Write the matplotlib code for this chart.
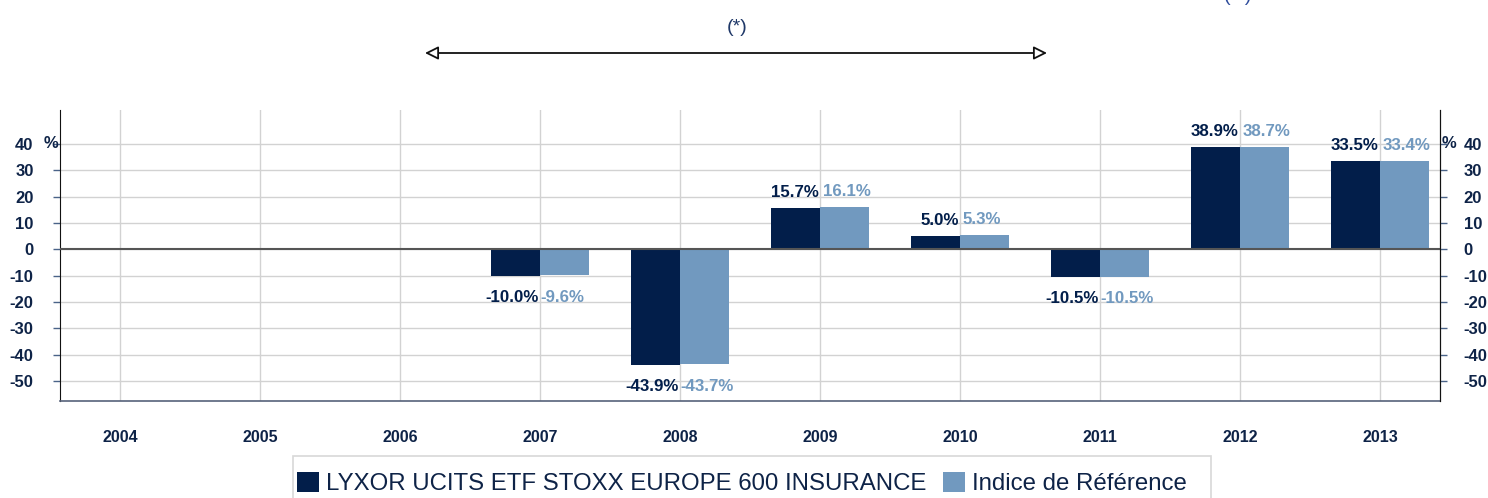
import matplotlib
matplotlib.use("Agg")
import matplotlib.pyplot as plt
import numpy as np
from matplotlib.transforms import blended_transform_factory
from matplotlib.patches import Rectangle

years = ["2004", "2005", "2006", "2007", "2008", "2009", "2010", "2011", "2012", "2013"]
fund = [None, None, None, -10.0, -43.9, 15.7, 5.0, -10.5, 38.9, 33.5]
index = [None, None, None, -9.6, -43.7, 16.1, 5.3, -10.5, 38.7, 33.4]
fund_name = "LYXOR UCITS ETF STOXX EUROPE 600 INSURANCE"
index_name = "Indice de Référence"
yticks = [40, 30, 20, 10, 0, -10, -20, -30, -40, -50]

DARK = "#021E4A"
LIGHT = "#7199BF"
TXT = "#0E2347"

plt.rcParams['font.family'] = ['Liberation Sans', 'DejaVu Sans']

fig = plt.figure(figsize=(14.88, 4.98), dpi=100)
ax = fig.add_axes([60/1488, 1-401/498, 1380/1488, 291/498])

x = np.arange(len(years))
w = 0.35
fv = [np.nan if v is None else v for v in fund]
iv = [np.nan if v is None else v for v in index]
ax.bar(x - w/2, fv, width=w, color=DARK, label=fund_name, zorder=3)
ax.bar(x + w/2, iv, width=w, color=LIGHT, label=index_name, zorder=3)

LS = 12.2
for xi, a, b in zip(x, fund, index):
    if a is None:
        continue
    if a >= 0:
        ax.annotate(f"{a:.1f}%", (xi, a), xytext=(-1, 6), textcoords="offset points",
                    ha="right", va="bottom", fontsize=LS, fontweight="bold", color=DARK)
    else:
        ax.annotate(f"{a:.1f}%", (xi, a), xytext=(-1, -10), textcoords="offset points",
                    ha="right", va="top", fontsize=LS, fontweight="bold", color=DARK)
    if b >= 0:
        ax.annotate(f"{b:.1f}%", (xi, max(a, b)), xytext=(2, 6), textcoords="offset points",
                    ha="left", va="bottom", fontsize=LS, fontweight="bold", color=LIGHT)
    else:
        ax.annotate(f"{b:.1f}%", (xi, a), xytext=(0, -10), textcoords="offset points",
                    ha="left", va="top", fontsize=LS, fontweight="bold", color=LIGHT)

ax.set_xlim(-60/140, 9 + 60/140)
ax.set_ylim(-57.6, 52.9)
ax.set_yticks(yticks)
ax.set_yticklabels([str(t) for t in yticks])
ax.set_xticks(x)
ax.set_xticklabels(years)
ax.tick_params(axis="x", length=0, pad=21, labelsize=11.5, labelcolor=TXT)
for lab in ax.get_xticklabels():
    lab.set_fontweight("bold")
ax.tick_params(axis="y", length=5, width=1, color="#4A6388", pad=14,
               labelsize=12, labelcolor=TXT)
for lab in ax.get_yticklabels():
    lab.set_fontweight("bold")

ax.grid(True, color="#D2D2D2", lw=1, zorder=0)
ax.set_axisbelow(True)
ax.axhline(0, color="#555555", lw=1.5, zorder=4)

ax.spines["top"].set_visible(False)
ax.spines["left"].set_color("#111111")
ax.spines["right"].set_color("#111111")
ax.spines["bottom"].set_color("#56627A")
ax.spines["bottom"].set_linewidth(1.2)

ax2 = ax.twinx()
ax2.set_ylim(ax.get_ylim())
ax2.set_yticks(yticks)
ax2.set_yticklabels([str(t) for t in yticks])
ax2.tick_params(axis="y", length=5, width=1, color="#4A6388", pad=12,
                labelsize=12, labelcolor=TXT)
for lab in ax2.get_yticklabels():
    lab.set_fontweight("bold")
for s in ["top", "left", "bottom"]:
    ax2.spines[s].set_visible(False)
ax2.spines["right"].set_color("#111111")

tl = blended_transform_factory(ax.transAxes, ax.transData)
ax.text(-0.0015, 40, "%", transform=tl, ha="right", va="center",
        fontsize=12, fontweight="bold", color=TXT)
ax.text(1.001, 40, "%", transform=tl, ha="left", va="center",
        fontsize=12, fontweight="bold", color=TXT)

# period annotation
fig.text(737/1488, 1-27/498, "(*)", ha="center", va="center", fontsize=14, color="#1F3868")
fig.text(1238/1488, 1+3/498, "(**)", ha="center", va="center", fontsize=14, color="#2E4C9C")
ax.annotate("", xy=(1047/1488, 1-53/498), xytext=(425/1488, 1-53/498),
            xycoords="figure fraction", textcoords="figure fraction",
            arrowprops=dict(arrowstyle="<|-|>,head_length=0.8,head_width=0.4",
                            fc="white", ec="#111111", lw=1.3, shrinkA=0, shrinkB=0),
            annotation_clip=False)

# legend frame (cut off at the bottom edge, as in the reference)
fig.patches.append(Rectangle((293/1488, -0.05), (1211-293)/1488, 0.05 + 1-456/498,
                             transform=fig.transFigure, fill=False,
                             edgecolor="#D8D8D8", lw=1.2))
leg = fig.legend(loc="upper left", bbox_to_anchor=(297/1488, 1-472/498), ncol=2,
                 fontsize=17.3, frameon=False, borderpad=0, borderaxespad=0,
                 handlelength=0.9, handleheight=0.9, handletextpad=0.3, columnspacing=0.7,
                 labelcolor=TXT)

fig.savefig("out.png", dpi=100)
